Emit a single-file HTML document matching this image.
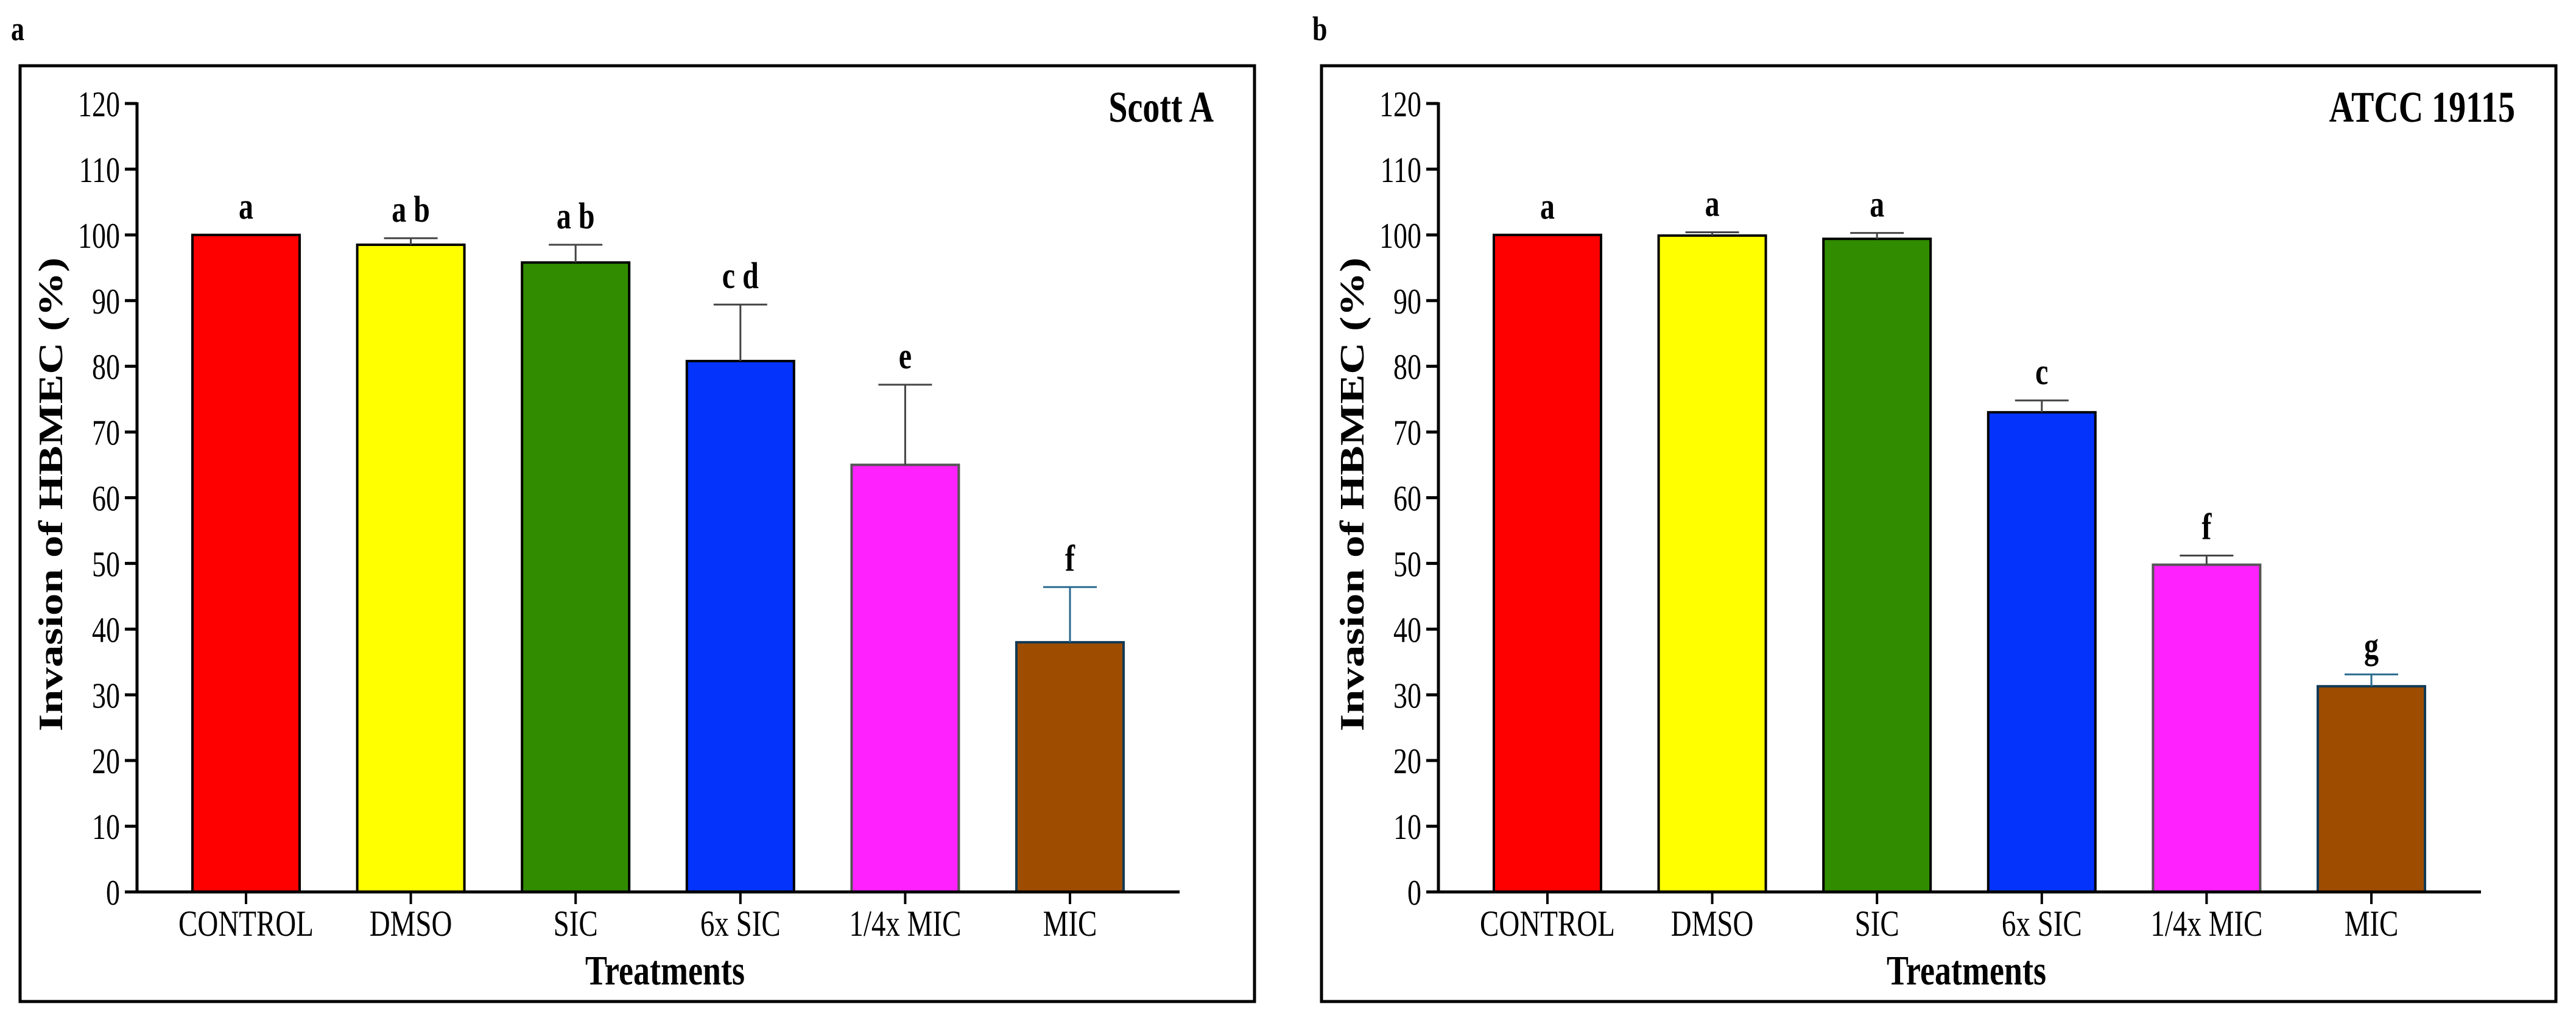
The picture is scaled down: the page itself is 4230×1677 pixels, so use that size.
<!DOCTYPE html>
<html><head><meta charset="utf-8"><style>
html,body{margin:0;padding:0;background:#fff;}
svg{display:block;}
text{font-family:"Liberation Serif",serif;fill:#000;}
</style></head><body>
<svg id="fig" width="4230" height="1677" viewBox="0 0 4230 1677" xmlns="http://www.w3.org/2000/svg"></svg>
<script>
const categories = ["CONTROL","DMSO","SIC","6x SIC","1/4x MIC","MIC"];
const colors = ["#ff0000","#ffff00","#318c00","#0433fb","#ff22ff","#9e4d00"];
const valuesA = [100, 98.5, 95.8, 80.8, 65.0, 38.0];
const errorsA = [0, 1.0, 2.7, 8.6, 12.2, 8.4];
const lettersA = ["a","a b","a b","c d","e","f"];
const valuesB = [100, 99.9, 99.4, 73.0, 49.8, 31.3];
const errorsB = [0, 0.5, 0.9, 1.8, 1.4, 1.8];
const lettersB = ["a","a","a","c","f","g"];
const yTicks = [0,10,20,30,40,50,60,70,80,90,100,110,120];

const NS = "http://www.w3.org/2000/svg";
const svg = document.getElementById("fig");
const K = 1.28;
function mk(tag, attrs, parent, txt){
  const e = document.createElementNS(NS, tag);
  for (const k in attrs) e.setAttribute(k, attrs[k]);
  if (txt !== undefined) e.textContent = txt;
  (parent || svg).appendChild(e);
  return e;
}
function txt(x, y, attrs, parent, s){
  attrs.x = 0; attrs.y = 0;
  attrs.transform = "translate(" + x + " " + y + ") scale(1 " + K + ")";
  return mk("text", attrs, parent, s);
}

function panel(ox, label, title, values, errors, letters, pname){
  const g = mk("g", {});
  
  
  const axisX = ox + 225, y0 = 1465, y120 = 170, xEnd = ox + 1937;
  const yS = v => y0 - (y0 - y120) * v / 120;
  const xC = i => ox + 404 + i * 270.6;
  const bw = 176;

  const pl = txt(ox + 18, 66, {"font-size": 44, "font-weight": "bold"}, g, label);
  
  

  const box = mk("rect", {x: ox + 33, y: 108, width: 2027, height: 1537, fill: "none", stroke: "#000", "stroke-width": 5}, g);
  
  

  const tt = txt(ox + 1993, 200, {"font-size": 56, "font-weight": "bold", "text-anchor": "end"}, g, title);
  
  

  values.forEach((v, i) => {
    const stroke = i === 5 ? "#123a55" : (i === 4 ? "#555" : "#000");
    const r = mk("rect", {x: xC(i) - bw/2, y: yS(v), width: bw, height: y0 - yS(v), fill: colors[i], stroke: stroke, "stroke-width": 4}, g);
    
    
    const top = v + errors[i];
    if (errors[i] > 0) {
      const ec = i === 5 ? "#2a6a8f" : "#444";
      const eg = mk("g", {stroke: ec, "stroke-width": 3}, g);
      
      
      mk("line", {x1: xC(i), x2: xC(i), y1: yS(v), y2: yS(top)}, eg);
      mk("line", {x1: xC(i) - 44, x2: xC(i) + 44, y1: yS(top), y2: yS(top)}, eg);
    }
    const lt = txt(xC(i), yS(top) - 27, {"font-size": 48, "font-weight": "bold", "text-anchor": "middle"}, g, letters[i]);
    
    
    const tk = mk("line", {x1: xC(i), x2: xC(i), y1: y0, y2: y0 + 20, stroke: "#000", "stroke-width": 4}, g);
    
    
    const cl = txt(xC(i), 1537, {"font-size": 47, "text-anchor": "middle"}, g, categories[i]);
    
    
  });

  const ya = mk("line", {x1: axisX, x2: axisX, y1: y120 - 2, y2: y0 + 2, stroke: "#000", "stroke-width": 5}, g);
  
  
  const xa = mk("line", {x1: axisX - 20, x2: xEnd, y1: y0, y2: y0, stroke: "#000", "stroke-width": 5}, g);
  
  
  yTicks.forEach(t => {
    const tl = mk("line", {x1: axisX - 20, x2: axisX, y1: yS(t), y2: yS(t), stroke: "#000", "stroke-width": 5}, g);
    
    
    const tx = txt(axisX - 28, yS(t) + 21, {"font-size": 46, "text-anchor": "end"}, g, String(t));
    
    
  });

  const yt = mk("text", {x: 0, y: 0, "font-size": 56, "font-weight": "bold", "text-anchor": "middle", transform: "translate(" + (ox + 102) + " 812) rotate(-90) scale(1.3 1)"}, g, "Invasion of HBMEC (%)");
  
  
  const xt = txt(ox + 1092, 1617, {"font-size": 54, "font-weight": "bold", "text-anchor": "middle"}, g, "Treatments");
  
  
}

panel(0, "a", "Scott A", valuesA, errorsA, lettersA, "panel-a-scott-a");
panel(2137, "b", "ATCC 19115", valuesB, errorsB, lettersB, "panel-b-atcc-19115");
</script>
</body></html>
